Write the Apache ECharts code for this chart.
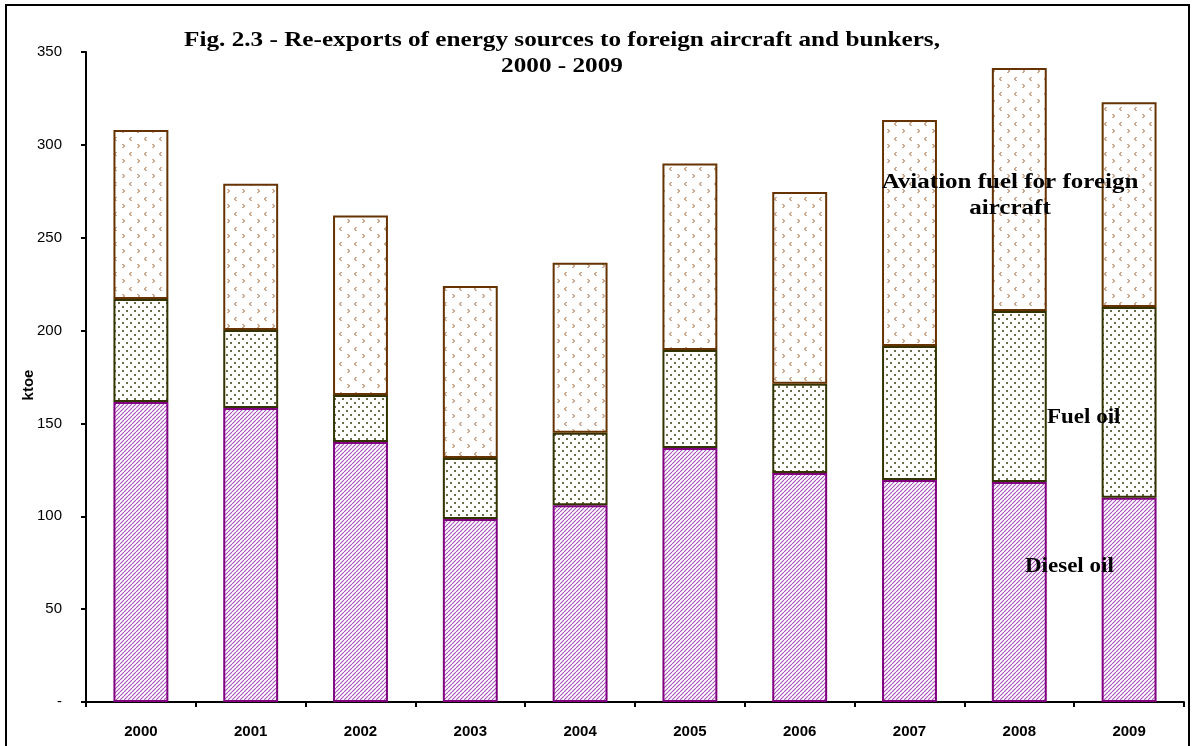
<!DOCTYPE html>
<html>
<head>
<meta charset="utf-8">
<script src="https://cdn.jsdelivr.net/npm/echarts@6/dist/echarts.min.js"></script>
<style>
  html, body { margin: 0; padding: 0; background: #fff; }
  #chart { width: 1196px; height: 746px; }
</style>
</head>
<body>
<div id="chart"></div>
<script>
const years = ['2000', '2001', '2002', '2003', '2004', '2005', '2006', '2007', '2008', '2009'];
// ktoe (stacked segments)
const dieselOil = [161.5, 158.3, 140, 98.5, 106, 136.8, 123.3, 119.5, 118.5, 110];
const fuelOil = [55.5, 42, 25.3, 32.9, 39, 52.8, 48, 72.2, 92.1, 102.7];
const aviationFuel = [91, 78.7, 96.7, 92.6, 91.5, 100.4, 103.3, 121.7, 130.8, 110.3];

// fill patterns like the excel ones
function makePattern(w, h, draw) {
  const c = document.createElement('canvas');
  c.width = w; c.height = h;
  const ctx = c.getContext('2d');
  ctx.fillStyle = '#fff';
  ctx.fillRect(0, 0, w, h);
  draw(ctx);
  return { image: c, repeat: 'repeat' };
}

const stripes = makePattern(4, 4, ctx => {
  ctx.strokeStyle = '#a950bb';
  ctx.lineWidth = 1.1;
  for (let k = -4; k <= 8; k += 4) {
    ctx.beginPath();
    ctx.moveTo(k, 4);
    ctx.lineTo(k + 4, 0);
    ctx.stroke();
  }
});

const dots = makePattern(16, 16, ctx => {
  ctx.fillStyle = '#6a6c4a';
  [[2, 2], [10, 2], [6, 6], [14, 6], [2, 10], [10, 10], [6, 14], [14, 14]].forEach(p => {
    ctx.fillRect(p[0], p[1], 2, 2);
  });
});

const chevrons = makePattern(15, 15, ctx => {
  ctx.strokeStyle = '#9a5a28';
  ctx.lineWidth = 1;
  const lt = (x, y) => { ctx.beginPath(); ctx.moveTo(x + 2.5, y); ctx.lineTo(x + 0.5, y + 2); ctx.lineTo(x + 2.5, y + 4); ctx.stroke(); };
  const gt = (x, y) => { ctx.beginPath(); ctx.moveTo(x + 0.5, y); ctx.lineTo(x + 2.5, y + 2); ctx.lineTo(x + 0.5, y + 4); ctx.stroke(); };
  lt(9, 2);
  gt(2, 9);
});

const chart = echarts.init(document.getElementById('chart'));

const option = {
  animation: false,
  backgroundColor: '#fff',
  grid: { left: 86, right: 12, top: 52, bottom: 44 },
  xAxis: {
    type: 'category',
    data: years,
    axisLine: { lineStyle: { color: '#000', width: 2 } },
    axisTick: { show: true, length: 5, lineStyle: { color: '#000', width: 2 } },
    axisLabel: {
      color: '#000',
      fontFamily: 'Liberation Sans',
      fontWeight: 'bold',
      fontSize: 15,
      margin: 22
    }
  },
  yAxis: {
    type: 'value',
    min: 0,
    max: 350,
    interval: 50,
    name: 'ktoe',
    nameLocation: 'middle',
    nameGap: 50,
    nameMoveOverlap: false,
    nameTextStyle: { color: '#000', fontFamily: 'Liberation Sans', fontWeight: 'bold', fontSize: 15, padding: [0, 16, 0, 0] },
    axisLine: { show: true, lineStyle: { color: '#000', width: 2 } },
    axisTick: { show: true, length: 5, lineStyle: { color: '#000', width: 2 } },
    splitLine: { show: false },
    axisLabel: {
      color: '#000',
      fontFamily: 'Liberation Sans',
      fontSize: 15,
      margin: 24,
      formatter: v => (v === 0 ? '-' : String(v))
    }
  },
  series: [
    {
      name: 'Diesel oil',
      type: 'bar',
      stack: 'total',
      barWidth: '50%',
      data: dieselOil,
      itemStyle: { color: stripes, borderColor: '#800080', borderWidth: 2 }
    },
    {
      name: 'Fuel oil',
      type: 'bar',
      stack: 'total',
      data: fuelOil,
      itemStyle: { color: dots, borderColor: '#333300', borderWidth: 2 }
    },
    {
      name: 'Aviation fuel for foreign aircraft',
      type: 'bar',
      stack: 'total',
      data: aviationFuel,
      itemStyle: { color: chevrons, borderColor: '#663300', borderWidth: 2 }
    }
  ],
  graphic: [
    {
      type: 'rect',
      shape: { x: 6, y: 5, width: 1183, height: 760 },
      style: { fill: 'none', stroke: '#000', lineWidth: 2 },
      silent: true
    },
    {
      type: 'text',
      x: 562,
      y: 28,
      scaleX: 1.2,
      style: {
        text: 'Fig. 2.3 - Re-exports of energy sources to foreign aircraft and bunkers,\n2000 - 2009',
        textAlign: 'center',
        font: 'bold 21px "Liberation Serif"',
        lineHeight: 26,
        fill: '#000'
      }
    },
    {
      type: 'text',
      x: 1010,
      y: 170,
      z: 100,
      scaleX: 1.25,
      style: {
        text: 'Aviation fuel for foreign\naircraft',
        textAlign: 'center',
        font: 'bold 20px "Liberation Serif"',
        lineHeight: 26,
        fill: '#000'
      }
    },
    {
      type: 'text',
      x: 1047,
      y: 408,
      z: 100,
      scaleX: 1.15,
      style: { text: 'Fuel oil', font: 'bold 20px "Liberation Serif"', fill: '#000' }
    },
    {
      type: 'text',
      x: 1025,
      y: 557,
      z: 100,
      scaleX: 1.15,
      style: { text: 'Diesel oil', font: 'bold 20px "Liberation Serif"', fill: '#000' }
    }
  ]
};

chart.setOption(option);
</script>
</body>
</html>
